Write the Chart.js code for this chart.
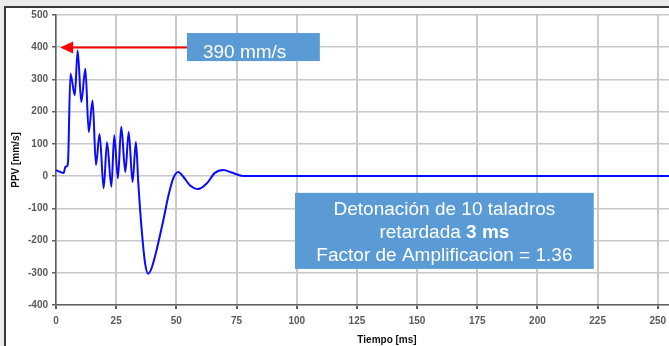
<!DOCTYPE html>
<html>
<head>
<meta charset="utf-8">
<script src="https://cdn.jsdelivr.net/npm/chart.js@4.4.1/dist/chart.umd.min.js"></script>
<style>
  html, body { margin: 0; padding: 0; overflow: hidden; background: #ebebeb; }
  #frame { position: absolute; left: 4px; top: 6px; width: 800px; height: 400px; border: 2px solid #383838; background: #fff; }
  #chart { position: absolute; left: 0; top: 0; }
</style>
</head>
<body>
<div id="frame"></div>
<canvas id="chart" width="740" height="346"></canvas>
<script>
const times = [0, 3.2, 3.9, 4.6, 5.0, 6.0, 7.8, 9.0, 10.5, 12.2, 13.6, 15.2, 16.6, 18.1, 19.8, 21.2, 23.0, 24.2, 25.7, 27.1, 28.8, 30.2, 31.8, 33.2, 34.2, 35.6, 37.0, 38.3, 39.7, 41.8, 44.6, 46.6, 48.7, 50.8, 52.9, 55.6, 59.1, 62.6, 66.0, 69.5, 73.0, 75.0, 77.1, 78.5, 275];
const ppv = [18, 10, 29, 31, 45, 318, 251, 390, 230, 333, 137, 235, 35, 131, -38, 105, -33, 127, -7, 153, 13, 137, -18, 106, -23, -167, -270, -303, -286, -229, -136, -64, -7, 13, -2, -28, -40, -23, 10, 19, 11, 6, 1, 0, 0];
const xRange = [0, 275];
const yRange = [-400, 500];
const xStep = 25;
const yStep = 100;

const peakLabel = '390 mm/s';
const peakLevel = 400;
const noteLines = ['Detonación de 10 taladros', ['retardada ', '3 ms'], 'Factor de Amplificacion = 1.36'];

const boxBlue = '#5b9bd5';
const fontFam = "'Liberation Sans', Arial, sans-serif";

const annotations = {
  id: 'annotations',
  afterDraw(chart) {
    const { ctx, scales: { x, y } } = chart;
    ctx.save();

    // red arrow pointing at the peak level
    const ay = Math.round(y.getPixelForValue(peakLevel)) + 0.5;
    const tipX = x.getPixelForValue(1.7);
    ctx.strokeStyle = '#ff0000';
    ctx.fillStyle = '#ff0000';
    ctx.lineWidth = 2;
    ctx.beginPath();
    ctx.moveTo(x.getPixelForValue(56), ay);
    ctx.lineTo(tipX + 10, ay);
    ctx.stroke();
    ctx.beginPath();
    ctx.moveTo(tipX, ay);
    ctx.lineTo(tipX + 13, ay - 6);
    ctx.lineTo(tipX + 13, ay + 6);
    ctx.closePath();
    ctx.fill();

    // peak value box
    const b1l = x.getPixelForValue(54.4);
    const b1r = x.getPixelForValue(109.6);
    const b1t = y.getPixelForValue(444);
    const b1b = y.getPixelForValue(357);
    ctx.fillStyle = boxBlue;
    ctx.fillRect(b1l, b1t, b1r - b1l, b1b - b1t);
    ctx.fillStyle = '#fff';
    ctx.font = `19px ${fontFam}`;
    ctx.textBaseline = 'alphabetic';
    ctx.textAlign = 'left';
    ctx.fillText(peakLabel, b1l + 16, b1b - 3);

    // note box
    const b2l = x.getPixelForValue(99.3);
    const b2r = x.getPixelForValue(223.4);
    const b2t = y.getPixelForValue(-52);
    const b2b = y.getPixelForValue(-288);
    ctx.fillStyle = boxBlue;
    ctx.fillRect(b2l, b2t, b2r - b2l, b2b - b2t);
    ctx.fillStyle = '#fff';
    const cx = (b2l + b2r) / 2;
    noteLines.forEach((line, i) => {
      const by = b2t + 22 + i * 23;
      if (Array.isArray(line)) {
        ctx.font = `19px ${fontFam}`;
        const w1 = ctx.measureText(line[0]).width;
        ctx.font = `bold 19px ${fontFam}`;
        const w2 = ctx.measureText(line[1]).width;
        const sx = cx - (w1 + w2) / 2;
        ctx.font = `19px ${fontFam}`;
        ctx.fillText(line[0], sx, by);
        ctx.font = `bold 19px ${fontFam}`;
        ctx.fillText(line[1], sx + w1, by);
      } else {
        ctx.font = `19px ${fontFam}`;
        ctx.fillText(line, cx - ctx.measureText(line).width / 2, by);
      }
    });
    ctx.restore();
  },
};

const chart = new Chart(document.getElementById('chart'), {
  type: 'line',
  data: {
    datasets: [{
      data: times.map((t, i) => ({ x: t, y: ppv[i] })),
      borderColor: '#0a0aff',
      borderWidth: 2,
      pointRadius: 0,
      cubicInterpolationMode: 'monotone',
      fill: false,
    }],
  },
  options: {
    responsive: false,
    animation: false,
    layout: { padding: { left: 5, top: 15, right: 22, bottom: 0 } },
    plugins: { legend: { display: false }, tooltip: { enabled: false } },
    scales: {
      x: {
        type: 'linear',
        min: xRange[0],
        max: xRange[1],
        afterFit: (scale) => { scale.height = 41; },
        ticks: { stepSize: xStep, maxRotation: 0, autoSkip: false, padding: 6, color: '#595959', font: { family: fontFam, size: 10, weight: 'bold' } },
        grid: { color: '#cbcbcb', lineWidth: 2, tickLength: 4, tickColor: '#606060' },
        border: { color: '#606060', width: 1.5 },
        title: { display: true, text: 'Tiempo [ms]', color: '#111', padding: { top: 6, bottom: 0 }, font: { family: fontFam, size: 10, weight: 'bold' } },
      },
      y: {
        min: yRange[0],
        max: yRange[1],
        afterFit: (scale) => { scale.width = 51; },
        ticks: { stepSize: yStep, padding: 4, color: '#595959', font: { family: fontFam, size: 10, weight: 'bold' } },
        grid: { color: '#c8c8c8', lineWidth: 1.5, tickLength: 4, tickColor: '#606060' },
        border: { color: '#606060', width: 1.5 },
        title: { display: true, text: 'PPV [mm/s]', color: '#111', padding: { top: 5.5, bottom: 0 }, font: { family: fontFam, size: 10, weight: 'bold' } },
      },
    },
  },
  plugins: [annotations],
});
</script>
</body>
</html>
